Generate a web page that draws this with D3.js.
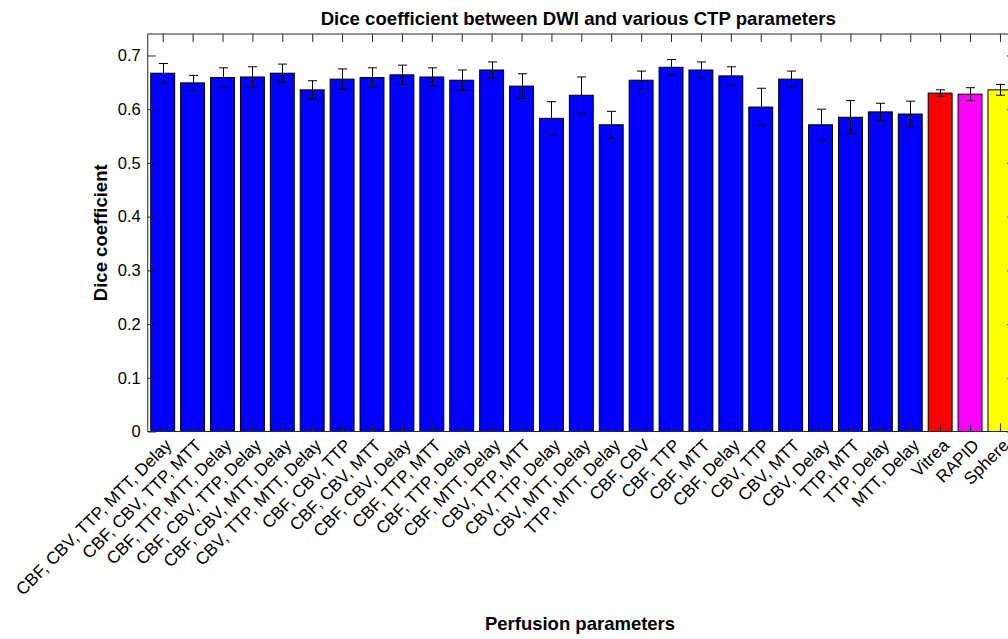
<!DOCTYPE html>
<html>
<head>
<meta charset="utf-8">
<script src="https://cdn.jsdelivr.net/npm/d3@7"></script>
<style>
  html, body { margin: 0; padding: 0; background: #fff; }
  svg { display: block; font-family: "Liberation Sans", Arial, sans-serif; }
</style>
</head>
<body>
<svg id="chart" width="1008" height="639"></svg>
<script>
// Perfusion parameter combinations and commercial packages
const categories = [
  "CBF, CBV, TTP, MTT, Delay",
  "CBF, CBV, TTP, MTT",
  "CBF, TTP, MTT, Delay",
  "CBF, CBV, TTP, Delay",
  "CBF, CBV, MTT, Delay",
  "CBV, TTP, MTT, Delay",
  "CBF, CBV, TTP",
  "CBF, CBV, MTT",
  "CBF, CBV, Delay",
  "CBF, TTP, MTT",
  "CBF, TTP, Delay",
  "CBF, MTT, Delay",
  "CBV, TTP, MTT",
  "CBV, TTP, Delay",
  "CBV, MTT, Delay",
  "TTP, MTT, Delay",
  "CBF, CBV",
  "CBF, TTP",
  "CBF, MTT",
  "CBF, Delay",
  "CBV, TTP",
  "CBV, MTT",
  "CBV, Delay",
  "TTP, MTT",
  "TTP, Delay",
  "MTT, Delay",
  "Vitrea",
  "RAPID",
  "Sphere"
];

// Mean Dice coefficient per parameter set
const diceMean = [
  0.667, 0.649, 0.659, 0.660, 0.667, 0.636, 0.656, 0.659, 0.664, 0.660,
  0.654, 0.673, 0.643, 0.583, 0.626, 0.571, 0.654, 0.678, 0.673, 0.662,
  0.604, 0.656, 0.571, 0.585, 0.595, 0.591, 0.630, 0.628, 0.636
];

// Error bar half-length (standard error)
const diceErr = [
  0.018, 0.014, 0.018, 0.019, 0.017, 0.017, 0.019, 0.018, 0.018, 0.017,
  0.019, 0.015, 0.023, 0.031, 0.034, 0.025, 0.017, 0.0145, 0.015, 0.017,
  0.035, 0.015, 0.029, 0.031, 0.016, 0.024, 0.006, 0.012, 0.010
];

// Bar fill: blue for parameter sets, one colour per package
const barColors = [
  ...Array(26).fill("#0000ff"),
  "#ff0000", "#ff00ff", "#ffff00"
];

const yTicks = [0, 0.1, 0.2, 0.3, 0.4, 0.5, 0.6, 0.7];

const svg = d3.select("#chart");
const axisColor = "#262626";
const tickLen = 8;

// Axes box geometry (right edge runs past the page)
const plotLeft = 147.75, plotRight = 1014.9, plotTop = 34, plotBottom = 431.5;

const x = d3.scaleLinear().domain([0.5, categories.length + 0.5]).range([plotLeft, plotRight]);
const y = d3.scaleLinear().domain([0, 0.74]).range([plotBottom, plotTop]);
const barW = (x(1.8) - x(1));

const data = categories.map((c, i) => ({
  name: c, pos: i + 1, v: diceMean[i], e: diceErr[i], color: barColors[i]
}));

svg.append("rect").attr("width", 1008).attr("height", 639).attr("fill", "#fff");

// Bars
svg.append("g").selectAll("rect").data(data).join("rect")
  .attr("x", d => x(d.pos) - barW / 2)
  .attr("y", d => y(d.v))
  .attr("width", barW)
  .attr("height", d => y(0) - y(d.v))
  .attr("fill", d => d.color)
  .attr("stroke", "#000")
  .attr("stroke-width", 1);

// Error bars
const eb = svg.append("g").attr("stroke", "#000").attr("stroke-width", 1).attr("fill", "none");
const capW = 4.5;
data.forEach(d => {
  const cx = Math.round(x(d.pos)) + 0.5;
  eb.append("line").attr("x1", cx).attr("x2", cx).attr("y1", y(d.v - d.e)).attr("y2", y(d.v + d.e));
  eb.append("line").attr("x1", cx - capW).attr("x2", cx + capW).attr("y1", y(d.v + d.e)).attr("y2", y(d.v + d.e));
  eb.append("line").attr("x1", cx - capW).attr("x2", cx + capW).attr("y1", y(d.v - d.e)).attr("y2", y(d.v - d.e));
});

// Axes box
svg.append("rect")
  .attr("x", plotLeft).attr("y", plotTop)
  .attr("width", plotRight - plotLeft).attr("height", plotBottom - plotTop)
  .attr("fill", "none").attr("stroke", axisColor).attr("stroke-width", 1);

// Left y axis (inward ticks)
const yAxisL = d3.axisRight(y).tickValues(yTicks).tickSize(tickLen).tickFormat("");
svg.append("g").attr("transform", `translate(${plotLeft},0)`).call(yAxisL)
  .call(g => g.select(".domain").remove())
  .call(g => g.selectAll("line").attr("stroke", axisColor));

// Right y axis (inward ticks)
const yAxisR = d3.axisLeft(y).tickValues(yTicks).tickSize(tickLen).tickFormat("");
svg.append("g").attr("transform", `translate(${plotRight},0)`).call(yAxisR)
  .call(g => g.select(".domain").remove())
  .call(g => g.selectAll("line").attr("stroke", axisColor));

// Y tick labels
svg.append("g").selectAll("text").data(yTicks).join("text")
  .attr("x", plotLeft - 7)
  .attr("y", d => y(d))
  .attr("dy", "0.35em")
  .attr("text-anchor", "end")
  .attr("font-size", 16.5)
  .attr("fill", "#000")
  .text(d => d3.format("")(d));

// Bottom and top x ticks (inward)
const xAxisB = d3.axisTop(x).tickValues(data.map(d => d.pos)).tickSize(tickLen).tickFormat("");
svg.append("g").attr("transform", `translate(0,${plotBottom})`).call(xAxisB)
  .call(g => g.select(".domain").remove())
  .call(g => g.selectAll("line").attr("stroke", axisColor));
const xAxisT = d3.axisBottom(x).tickValues(data.map(d => d.pos)).tickSize(tickLen).tickFormat("");
svg.append("g").attr("transform", `translate(0,${plotTop})`).call(xAxisT)
  .call(g => g.select(".domain").remove())
  .call(g => g.selectAll("line").attr("stroke", axisColor));

// Rotated category labels
svg.append("g").selectAll("text").data(data).join("text")
  .attr("transform", d => `translate(${x(d.pos) + 10},${plotBottom + 15}) rotate(-45)`)
  .attr("text-anchor", "end")
  .attr("font-size", 17.2)
  .attr("fill", "#000")
  .text(d => d.name);

// Title and axis labels
svg.append("text")
  .attr("x", (plotLeft + plotRight) / 2 - 3).attr("y", 25)
  .attr("text-anchor", "middle")
  .attr("font-size", 18.6).attr("font-weight", "bold")
  .text("Dice coefficient between DWI and various CTP parameters");

svg.append("text")
  .attr("x", 580).attr("y", 630)
  .attr("text-anchor", "middle")
  .attr("font-size", 18.5).attr("font-weight", "bold")
  .text("Perfusion parameters");

svg.append("text")
  .attr("transform", `translate(107,${(plotTop + plotBottom) / 2}) rotate(-90)`)
  .attr("text-anchor", "middle")
  .attr("font-size", 18.5).attr("font-weight", "bold")
  .text("Dice coefficient");
</script>
</body>
</html>
